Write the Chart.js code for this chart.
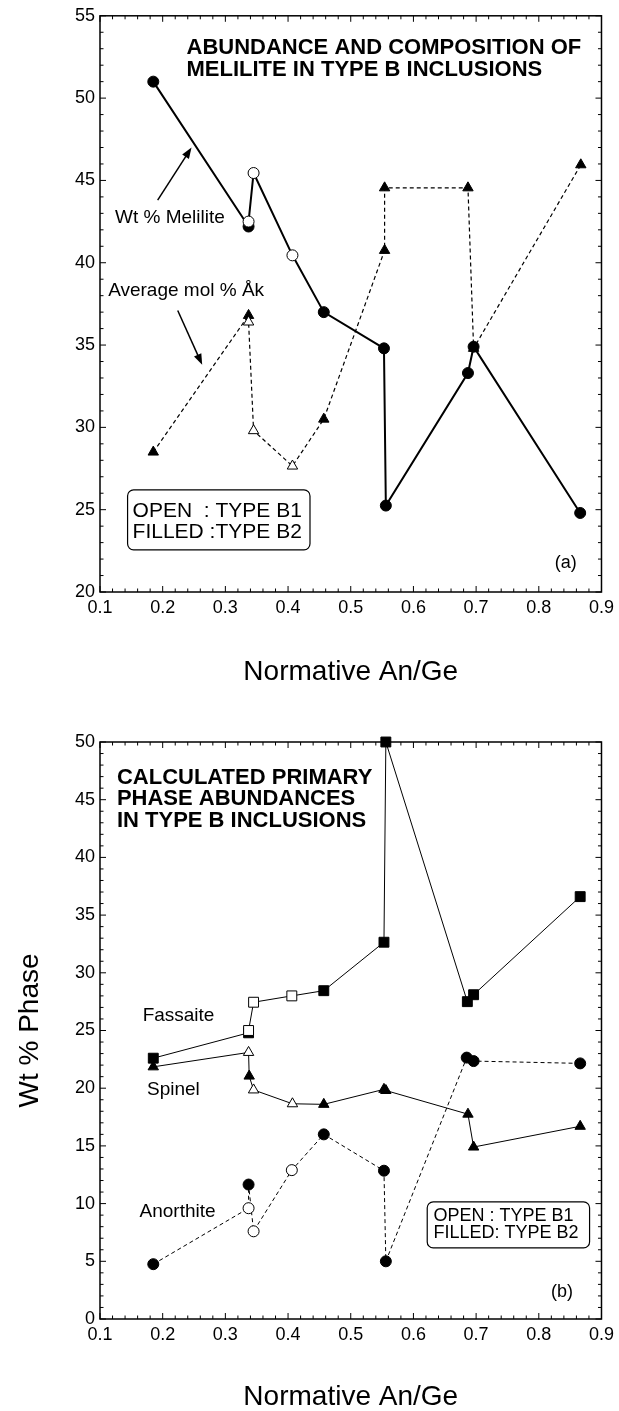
<!DOCTYPE html>
<html>
<head>
<meta charset="utf-8">
<title>Melilite and primary phases in Type B inclusions</title>
<script src="https://cdn.jsdelivr.net/npm/chart.js@4.4.1/dist/chart.umd.min.js"></script>
<style>
  html, body { margin:0; padding:0; background:#fff; overflow:hidden; }
  canvas { position:absolute; left:0; display:block; }
  #chartA { top:0; }
  #chartB { top:700px; }
</style>
</head>
<body>
<canvas id="chartA" width="619" height="700"></canvas>
<canvas id="chartB" width="619" height="711"></canvas>
<script>
const FONT = '"Liberation Sans", Arial, Helvetica, sans-serif';

// (a) wt % melilite vs normative An/Ge  (B1 = open symbol, B2 = filled)
const meliliteAnGe = [0.185, 0.337, 0.337, 0.345, 0.407, 0.457, 0.553, 0.556, 0.687, 0.696, 0.866];
const meliliteWt   = [51.0, 42.2, 42.5, 45.45, 40.45, 37.0, 34.8, 25.25, 33.3, 34.9, 24.8];
const meliliteType = ['B2', 'B2', 'B1', 'B1', 'B1', 'B2', 'B2', 'B2', 'B2', 'B2', 'B2'];

// (a) average mol % akermanite in melilite
const akAnGe = [0.185, 0.337, 0.337, 0.345, 0.407, 0.457, 0.554, 0.554, 0.687, 0.696, 0.867];
const akMol  = [28.5, 36.8, 36.4, 29.8, 27.65, 30.5, 40.75, 44.55, 44.55, 34.8, 45.95];
const akType = ['B2', 'B2', 'B1', 'B1', 'B1', 'B2', 'B2', 'B2', 'B2', 'B2', 'B2'];

// (b) calculated primary phase abundances, wt %
const fassaiteAnGe = [0.185, 0.337, 0.337, 0.345, 0.406, 0.457, 0.553, 0.556, 0.686, 0.696, 0.866];
const fassaiteWt   = [22.6, 24.8, 25.0, 27.45, 28.0, 28.45, 32.65, 50.0, 27.5, 28.1, 36.6];
const fassaiteType = ['B2', 'B2', 'B1', 'B1', 'B1', 'B2', 'B2', 'B2', 'B2', 'B2', 'B2'];

const spinelAnGe = [0.185, 0.337, 0.338, 0.345, 0.407, 0.457, 0.553, 0.556, 0.687, 0.696, 0.866];
const spinelWt   = [21.85, 23.1, 21.05, 19.85, 18.65, 18.6, 19.9, 19.8, 17.75, 14.9, 16.7];
const spinelType = ['B2', 'B1', 'B2', 'B1', 'B1', 'B2', 'B2', 'B2', 'B2', 'B2', 'B2'];

const anorthiteAnGe = [0.185, 0.337, 0.337, 0.345, 0.406, 0.457, 0.553, 0.556, 0.685, 0.696, 0.866];
const anorthiteWt   = [4.75, 9.6, 11.65, 7.6, 12.9, 16.0, 12.85, 5.0, 22.65, 22.35, 22.15];
const anorthiteType = ['B2', 'B1', 'B2', 'B1', 'B1', 'B2', 'B2', 'B2', 'B2', 'B2', 'B2'];

const anGeTicks = { min: 0.1, max: 0.9, step: 0.1 };

function series(xs, ys, types, shape, radius, lineWidth, dash){
  return {
    data: xs.map((x, i) => ({ x, y: ys[i] })),
    showLine: true,
    borderColor: '#000',
    borderWidth: lineWidth,
    borderDash: dash,
    tension: 0,
    pointStyle: shape,
    pointRadius: radius,
    pointHoverRadius: radius,
    pointBorderWidth: 1,
    pointBorderColor: '#000',
    pointBackgroundColor: types.map(t => t === 'B1' ? '#fff' : '#000'),
    clip: false
  };
}

function line(ctx, x0, y0, x1, y1){
  ctx.beginPath(); ctx.moveTo(x0, y0); ctx.lineTo(x1, y1); ctx.stroke();
}

// frame with inward ticks on all four sides, plus text/box/arrow notes
const panelDecor = {
  id: 'panelDecor',
  beforeDatasetsDraw(chart){
    const { ctx, chartArea: a, scales: { x, y } } = chart;
    ctx.save();
    ctx.strokeStyle = '#000';
    ctx.lineWidth = 1;
    for(let i = Math.round(x.min * 50); i <= Math.round(x.max * 50); i++){
      const px = x.getPixelForValue(i / 50);
      const len = i % 5 === 0 ? 6 : 3.5;
      line(ctx, px, a.bottom, px, a.bottom - len);
      line(ctx, px, a.top, px, a.top + len);
    }
    for(let v = y.min; v <= y.max; v++){
      const py = y.getPixelForValue(v);
      const len = v % 5 === 0 ? 6 : 3.5;
      line(ctx, a.left, py, a.left + len, py);
      line(ctx, a.right, py, a.right - len, py);
    }
    ctx.lineWidth = 1.5;
    ctx.strokeRect(a.left, a.top, a.right - a.left, a.bottom - a.top);
    ctx.restore();
  },
  afterDatasetsDraw(chart, args, opts){
    const { ctx, scales: { x, y } } = chart;
    ctx.save();
    ctx.fillStyle = '#000';
    ctx.strokeStyle = '#000';
    (opts.boxes || []).forEach(b => {
      const x0 = x.getPixelForValue(b.x0), x1 = x.getPixelForValue(b.x1);
      const y0 = y.getPixelForValue(b.y0), y1 = y.getPixelForValue(b.y1);
      ctx.beginPath();
      ctx.roundRect(x0, y0, x1 - x0, y1 - y0, 6);
      ctx.fillStyle = '#fff'; ctx.fill();
      ctx.lineWidth = 1.2; ctx.stroke();
      ctx.fillStyle = '#000';
    });
    (opts.notes || []).forEach(n => {
      ctx.font = `${n.bold ? 'bold ' : ''}${n.size}px ${FONT}`;
      ctx.textAlign = n.align || 'left';
      ctx.textBaseline = 'middle';
      ctx.fillText(n.text, x.getPixelForValue(n.x), y.getPixelForValue(n.y));
    });
    (opts.arrows || []).forEach(ar => {
      const x0 = x.getPixelForValue(ar.from[0]), y0 = y.getPixelForValue(ar.from[1]);
      const x1 = x.getPixelForValue(ar.to[0]), y1 = y.getPixelForValue(ar.to[1]);
      const ang = Math.atan2(y1 - y0, x1 - x0);
      ctx.lineWidth = 1.5;
      line(ctx, x0, y0, x1 - 6 * Math.cos(ang), y1 - 6 * Math.sin(ang));
      ctx.beginPath();
      ctx.moveTo(x1, y1);
      ctx.lineTo(x1 - 11 * Math.cos(ang) + 4 * Math.sin(ang), y1 - 11 * Math.sin(ang) - 4 * Math.cos(ang));
      ctx.lineTo(x1 - 11 * Math.cos(ang) - 4 * Math.sin(ang), y1 - 11 * Math.sin(ang) + 4 * Math.cos(ang));
      ctx.closePath();
      ctx.fill();
    });
    ctx.restore();
  }
};

function xScale(height){
  return {
    type: 'linear', min: anGeTicks.min, max: anGeTicks.max,
    ticks: { stepSize: anGeTicks.step, padding: 5, font: { size: 18 }, color: '#000',
             maxRotation: 0, autoSkip: false, callback: v => v.toFixed(1) },
    grid: { display: false, drawTicks: false },
    border: { display: false },
    title: { display: true, text: 'Normative An/Ge', color: '#000',
             font: { size: 28, lineHeight: 1 }, padding: 0 },
    afterFit: s => { s.height = height; }
  };
}

function yScale(min, max, title){
  return {
    type: 'linear', min, max,
    ticks: { stepSize: 5, padding: 5, font: { size: 18 }, color: '#000' },
    grid: { display: false, drawTicks: false },
    border: { display: false },
    title: title ? { display: true, text: title, color: '#000',
                     font: { size: 28, lineHeight: 1 }, padding: { top: 16, bottom: 0 } } : { display: false },
    afterFit: s => { s.width = 100; }
  };
}

Chart.defaults.font.family = FONT;
Chart.defaults.color = '#000';

new Chart(document.getElementById('chartA'), {
  type: 'scatter',
  data: { datasets: [
    series(meliliteAnGe, meliliteWt, meliliteType, 'circle', 5.5, 2, []),
    series(akAnGe, akMol, akType, 'triangle', 6, 1.2, [4, 3])
  ]},
  options: {
    responsive: false, animation: false, events: [], devicePixelRatio: 1,
    layout: { padding: { left: 0, right: 15, top: 15, bottom: 14 } },
    scales: { x: xScale(94), y: yScale(20, 55) },
    plugins: {
      legend: { display: false }, tooltip: { enabled: false },
      panelDecor: {
        boxes: [{ x0: 0.144, x1: 0.435, y0: 26.2, y1: 22.56 }],
        notes: [
          { text: 'ABUNDANCE AND COMPOSITION OF', x: 0.238, y: 53.03, size: 22, bold: true },
          { text: 'MELILITE IN TYPE B INCLUSIONS', x: 0.238, y: 51.73, size: 22, bold: true },
          { text: 'Wt % Melilite', x: 0.124, y: 42.75, size: 19 },
          { text: 'Average mol % Åk', x: 0.113, y: 38.32, size: 19 },
          { text: 'OPEN  : TYPE B1', x: 0.152, y: 24.92, size: 21 },
          { text: 'FILLED :TYPE B2', x: 0.152, y: 23.65, size: 21 },
          { text: '(a)', x: 0.843, y: 21.77, size: 18, align: 'center' }
        ],
        arrows: [
          { from: [0.192, 43.8], to: [0.246, 47.0] },
          { from: [0.224, 37.1], to: [0.263, 33.8] }
        ]
      }
    }
  },
  plugins: [panelDecor]
});

new Chart(document.getElementById('chartB'), {
  type: 'scatter',
  data: { datasets: [
    series(fassaiteAnGe, fassaiteWt, fassaiteType, 'rect', 7, 1, []),
    series(spinelAnGe, spinelWt, spinelType, 'triangle', 6, 1, []),
    series(anorthiteAnGe, anorthiteWt, anorthiteType, 'circle', 5.5, 1, [4, 3])
  ]},
  options: {
    responsive: false, animation: false, events: [], devicePixelRatio: 1,
    layout: { padding: { left: 0, right: 15, top: 42, bottom: 0 } },
    scales: { x: xScale(92), y: yScale(0, 50, 'Wt % Phase') },
    plugins: {
      legend: { display: false }, tooltip: { enabled: false },
      panelDecor: {
        boxes: [{ x0: 0.622, x1: 0.881, y0: 10.15, y1: 6.16 }],
        notes: [
          { text: 'CALCULATED PRIMARY', x: 0.127, y: 46.88, size: 22, bold: true },
          { text: 'PHASE ABUNDANCES', x: 0.127, y: 45.04, size: 22, bold: true },
          { text: 'IN TYPE B INCLUSIONS', x: 0.127, y: 43.19, size: 22, bold: true },
          { text: 'Fassaite', x: 0.168, y: 26.26, size: 19 },
          { text: 'Spinel', x: 0.175, y: 19.85, size: 19 },
          { text: 'Anorthite', x: 0.163, y: 9.27, size: 19 },
          { text: 'OPEN : TYPE B1', x: 0.632, y: 8.94, size: 18 },
          { text: 'FILLED: TYPE B2', x: 0.632, y: 7.47, size: 18 },
          { text: '(b)', x: 0.837, y: 2.34, size: 18, align: 'center' }
        ]
      }
    }
  },
  plugins: [panelDecor]
});
</script>
</body>
</html>
